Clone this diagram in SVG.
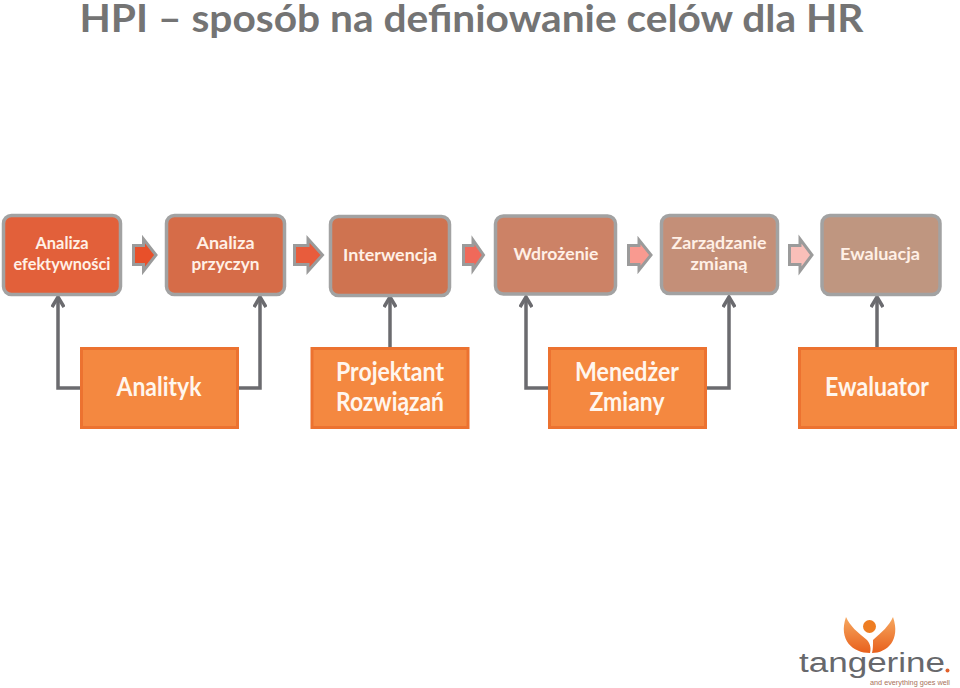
<svg xmlns="http://www.w3.org/2000/svg" width="960" height="688" viewBox="0 0 960 688">
<style>
text{font-family:"Lato","Liberation Sans",sans-serif;font-weight:700;text-anchor:middle}
.t{fill:#fff0e6;font-size:17.500px}
.b{fill:#fff6ee;font-size:26px}
.n{stroke:#a2a2a2;stroke-width:3.5}
.o{fill:#f48840;stroke:#ec7230;stroke-width:3}
.a{stroke:#9b9b9b;stroke-width:3;stroke-linejoin:miter}
.c{fill:none;stroke:#6b6b6f;stroke-width:3.5;marker-end:url(#h)}
</style>
<defs>
<marker id="h" markerUnits="userSpaceOnUse" markerWidth="16" markerHeight="14" refX="12" refY="7" orient="auto"><path d="M2 1L12 7L2 13" fill="none" stroke="#6b6b6f" stroke-width="3.5"/></marker>
<linearGradient id="w" x1="0" y1="1" x2="0" y2="0"><stop offset="0" stop-color="#e8601c"/><stop offset="1" stop-color="#f6a860"/></linearGradient>
</defs>
<rect width="960" height="688" fill="#fff"/>
<text x="471.500" y="32" font-size="38" fill="#747474" textLength="784" lengthAdjust="spacingAndGlyphs">HPI – sposób na definiowanie celów dla HR</text>
<g id="connectors">
<path class="c" d="M80 388H58V297"/>
<path class="c" d="M238 388H260V297"/>
<path class="c" d="M390 348V297"/>
<path class="c" d="M549 388H526V297"/>
<path class="c" d="M706 388H729V297"/>
<path class="c" d="M877 348V297"/>
</g>
<g id="flow-arrows">
<path class="a" fill="#e8502a" d="M133.500 245.500H143.500V239L156 255L143.500 271V264.500H133.500Z"/>
<path class="a" fill="#e85c3c" d="M294.500 245.500H308V239L322.500 255L308 271V264.500H294.500Z"/>
<path class="a" fill="#f0695a" d="M463.500 245.500H473V240L483.500 255L473 270V264.500H463.500Z"/>
<path class="a" fill="#f99a90" d="M628.500 245.500H639V240L651 255L639 270V264.500H628.500Z"/>
<path class="a" fill="#f9bfb9" d="M789.500 245.500H800V239L812 255L800 271V264.500H789.500Z"/>
</g>
<g id="n1"><rect class="n" x="3.500" y="215.500" width="117" height="79" rx="8" fill="#e2603a"/><text class="t" x="62" y="249" textLength="53" lengthAdjust="spacingAndGlyphs">Analiza</text><text class="t" x="62" y="270" textLength="97" lengthAdjust="spacingAndGlyphs">efektywności</text></g>
<g id="n2"><rect class="n" x="166.500" y="215.500" width="118" height="79" rx="8" fill="#d66c48"/><text class="t" x="225.500" y="249" textLength="58" lengthAdjust="spacingAndGlyphs">Analiza</text><text class="t" x="225.500" y="270" textLength="68" lengthAdjust="spacingAndGlyphs">przyczyn</text></g>
<g id="n3"><rect class="n" x="330.500" y="216.500" width="119" height="79" rx="8" fill="#cf7350"/><text class="t" x="390" y="261" textLength="94" lengthAdjust="spacingAndGlyphs">Interwencja</text></g>
<g id="n4"><rect class="n" x="495.500" y="216" width="120" height="78" rx="8" fill="#cc8266"/><text class="t" x="556" y="260" textLength="85" lengthAdjust="spacingAndGlyphs">Wdrożenie</text></g>
<g id="n5"><rect class="n" x="661.500" y="215.500" width="116" height="78" rx="8" fill="#c48f78"/><text class="t" x="719" y="249" textLength="95" lengthAdjust="spacingAndGlyphs">Zarządzanie</text><text class="t" x="719" y="270" textLength="57" lengthAdjust="spacingAndGlyphs">zmianą</text></g>
<g id="n6"><rect class="n" x="822" y="215.500" width="118" height="79" rx="8" fill="#bf9680"/><text class="t" x="880" y="260" textLength="80" lengthAdjust="spacingAndGlyphs">Ewaluacja</text></g>
<g id="r1"><rect class="o" x="81.500" y="348.500" width="156" height="79"/><text class="b" x="159" y="396" textLength="85" lengthAdjust="spacingAndGlyphs">Analityk</text></g>
<g id="r2"><rect class="o" x="312" y="348.500" width="156" height="79"/><text class="b" x="390" y="381" textLength="108" lengthAdjust="spacingAndGlyphs">Projektant</text><text class="b" x="390" y="411" textLength="108" lengthAdjust="spacingAndGlyphs">Rozwiązań</text></g>
<g id="r3"><rect class="o" x="549.500" y="348.500" width="156" height="79"/><text class="b" x="627" y="381" textLength="104" lengthAdjust="spacingAndGlyphs">Menedżer</text><text class="b" x="627" y="411" textLength="75" lengthAdjust="spacingAndGlyphs">Zmiany</text></g>
<g id="r4"><rect class="o" x="799.500" y="348.500" width="156" height="79"/><text class="b" x="877" y="396" textLength="104" lengthAdjust="spacingAndGlyphs">Ewaluator</text></g>
<g id="logo">
<circle cx="869.500" cy="626.500" r="6.500" fill="#ee7d22"/>
<path d="M846 617C850 626 857 632 867 640C871 645 871 649 870 653C853 653 838 640 846 617Z" fill="url(#w)"/>
<path d="M893 617C889 626 882 632 873 640C873 645 873 649 872 653C887 653 901 640 893 617Z" fill="url(#w)"/>
<text x="872" y="672" font-size="27" fill="#67686c" textLength="146" lengthAdjust="spacingAndGlyphs" style="font-family:'Liberation Sans',sans-serif;font-weight:400">tangerine</text>
<circle cx="947.500" cy="670.500" r="2" fill="#e2602a"/>
<text x="910" y="685" font-size="7" fill="#a8725a" textLength="80" lengthAdjust="spacingAndGlyphs" style="font-family:'Liberation Sans',sans-serif;font-weight:400">and everything goes well</text>
</g>
</svg>
